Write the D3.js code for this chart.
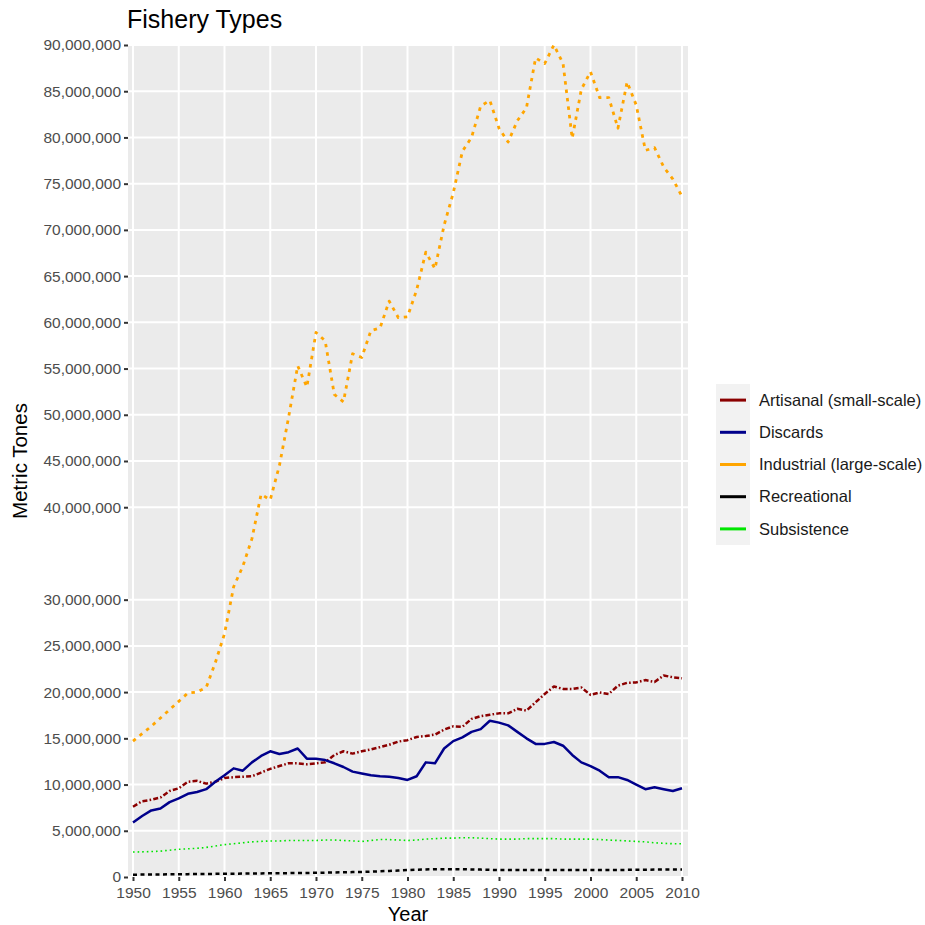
<!DOCTYPE html>
<html><head><meta charset="utf-8">
<script src="https://cdn.jsdelivr.net/npm/d3@7"></script>
<style>body{margin:0;background:#fff;} svg{display:block;font-family:"Liberation Sans",Arial,sans-serif;}</style>
</head><body>
<svg id="chart" width="925" height="925"></svg>
<script>
const years = d3.range(1950, 2011);
const artisanal = [7.6,8.2,8.35,8.6,9.3,9.6,10.3,10.4,10.1,10.3,10.7,10.8,10.85,10.9,11.3,11.7,12.0,12.3,12.3,12.2,12.3,12.4,13.2,13.6,13.35,13.6,13.8,14.05,14.3,14.65,14.8,15.15,15.25,15.4,15.95,16.3,16.25,17.1,17.4,17.55,17.7,17.7,18.2,18.0,18.9,19.8,20.6,20.35,20.35,20.5,19.7,19.95,19.8,20.7,21.0,21.05,21.3,21.1,21.8,21.6,21.5];
const discards = [5.9,6.6,7.2,7.4,8.1,8.5,9.0,9.2,9.5,10.3,11.0,11.75,11.5,12.4,13.1,13.6,13.3,13.5,13.9,12.8,12.8,12.65,12.3,11.9,11.4,11.2,11.0,10.9,10.85,10.7,10.5,10.9,12.4,12.3,13.9,14.7,15.1,15.7,16.0,16.9,16.7,16.4,15.7,15.0,14.4,14.4,14.6,14.2,13.2,12.4,12.0,11.5,10.8,10.8,10.5,10.0,9.5,9.7,9.5,9.3,9.6];
const industrial = [14.7,15.5,16.3,17.2,18.1,19.0,19.9,20.0,20.5,23.2,26.3,31.4,33.6,36.6,41.4,40.8,44.5,49.7,55.3,53.0,58.9,58.0,52.2,51.4,56.6,56.2,59.1,59.4,62.3,60.5,60.6,63.5,67.6,65.8,70.5,74.0,78.5,80.0,83.4,84.0,81.0,79.5,81.8,83.2,88.6,88.0,90.0,88.0,79.9,85.2,87.1,84.3,84.3,81.0,86.0,83.5,78.6,78.9,76.8,75.5,73.6];
const recreational = [0.25,0.26,0.27,0.28,0.29,0.3,0.31,0.32,0.33,0.34,0.35,0.36,0.37,0.38,0.39,0.4,0.41,0.42,0.43,0.44,0.45,0.47,0.49,0.51,0.53,0.55,0.58,0.62,0.66,0.7,0.75,0.79,0.82,0.85,0.85,0.85,0.84,0.82,0.8,0.78,0.75,0.75,0.75,0.75,0.75,0.75,0.75,0.75,0.75,0.75,0.75,0.75,0.76,0.76,0.77,0.78,0.79,0.8,0.81,0.82,0.82];
const subsistence = [2.7,2.72,2.75,2.8,2.9,3.0,3.05,3.1,3.2,3.35,3.5,3.6,3.7,3.8,3.85,3.9,3.9,3.95,3.95,3.95,3.95,4.0,4.0,3.95,3.9,3.85,3.95,4.05,4.05,4.0,3.95,4.0,4.1,4.15,4.2,4.2,4.25,4.25,4.2,4.15,4.1,4.1,4.1,4.15,4.15,4.15,4.15,4.1,4.1,4.1,4.1,4.05,4.0,3.95,3.9,3.85,3.8,3.7,3.65,3.6,3.6];
const seriesNames = ["Artisanal (small-scale)","Discards","Industrial (large-scale)","Recreational","Subsistence"];
const yTicks = [0,5e6,10e6,15e6,20e6,25e6,30e6,40e6,45e6,50e6,55e6,60e6,65e6,70e6,75e6,80e6,85e6,90e6];
const xTicks = [1950,1955,1960,1965,1970,1975,1980,1985,1990,1995,2000,2005,2010];

const seriesData = [artisanal, discards, industrial, recreational, subsistence];
const styles = [
  {color:"#8B0000", width:2.5, dash:"5,2.2,1.6,2.2"},
  {color:"#00008B", width:2.5, dash:null},
  {color:"#FFA500", width:2.8, dash:"3.5,5"},
  {color:"#000000", width:2.5, dash:"4,3.5"},
  {color:"#00E600", width:1.6, dash:"1.6,3"}
];

const svg = d3.select("#chart");
const P = {left:128, right:688, top:45, bottom:877};
const x = d3.scaleLinear().domain([1950,2010]).range([133,682]);
const y = d3.scaleLinear().domain([0,90e6]).range([P.bottom,P.top]);

svg.append("rect").attr("x",P.left).attr("y",P.top).attr("width",P.right-P.left).attr("height",P.bottom-P.top).attr("fill","#EBEBEB");

// gridlines
svg.append("g").selectAll("line").data(yTicks).join("line")
  .attr("x1",P.left).attr("x2",P.right).attr("y1",d=>y(d)).attr("y2",d=>y(d))
  .attr("stroke","#fff").attr("stroke-width",2);
svg.append("g").selectAll("line").data(xTicks).join("line")
  .attr("y1",P.top).attr("y2",P.bottom).attr("x1",d=>x(d)).attr("x2",d=>x(d))
  .attr("stroke","#fff").attr("stroke-width",2);

// lines
const line = d3.line().x((d,i)=>x(years[i])).y(d=>y(d*1e6));
seriesData.forEach((s,k)=>{
  const p = svg.append("path").datum(s).attr("d",line).attr("fill","none")
    .attr("stroke",styles[k].color).attr("stroke-width",styles[k].width)
    .attr("stroke-linejoin","round").attr("stroke-linecap","butt");
  if (styles[k].dash) p.attr("stroke-dasharray",styles[k].dash);
});

// axes
const fmt = d3.format(",");
const yAxis = d3.axisLeft(y).tickValues(yTicks).tickFormat(fmt).tickSize(4).tickPadding(3);
const gy = svg.append("g").attr("transform",`translate(${P.left},0)`).call(yAxis);
gy.select(".domain").remove();
gy.selectAll("line").attr("stroke","#333").attr("stroke-width",2);
gy.selectAll("text").attr("fill","#4D4D4D").style("font-size","15.5px").style("font-family","Liberation Sans, Arial, sans-serif");

const xAxis = d3.axisBottom(x).tickValues(xTicks).tickFormat(d3.format("d")).tickSize(4).tickPadding(6);
const gx = svg.append("g").attr("transform",`translate(0,${P.bottom})`).call(xAxis);
gx.select(".domain").remove();
gx.selectAll("line").attr("stroke","#333").attr("stroke-width",2);
gx.selectAll("text").attr("fill","#4D4D4D").style("font-size","15.5px").style("font-family","Liberation Sans, Arial, sans-serif");

// titles
svg.append("text").attr("x",127).attr("y",28).text("Fishery Types")
  .attr("fill","#000").style("font-size","25px");
svg.append("text").attr("x",(P.left+P.right)/2).attr("y",921).attr("text-anchor","middle")
  .text("Year").attr("fill","#000").style("font-size","20px");
svg.append("text").attr("transform",`translate(27,${(P.top+P.bottom)/2}) rotate(-90)`)
  .attr("text-anchor","middle").text("Metric Tones").attr("fill","#000").style("font-size","20.5px");

// legend
const L = {x:716, y:384, kw:34, kh:32.2};
svg.append("rect").attr("x",L.x).attr("y",L.y).attr("width",L.kw).attr("height",L.kh*5).attr("fill","#F2F2F2");
const lg = svg.append("g").selectAll("g").data(seriesNames).join("g")
  .attr("transform",(d,i)=>`translate(${L.x},${L.y + L.kh*i + L.kh/2})`);
lg.append("line").attr("x1",4).attr("x2",30).attr("y1",0).attr("y2",0)
  .attr("stroke",(d,i)=>styles[i].color).attr("stroke-width",3);
lg.append("text").attr("x",43).attr("y",0).attr("dy","0.35em").text(d=>d)
  .attr("fill","#1A1A1A").style("font-size","16.5px");
</script>
</body></html>
